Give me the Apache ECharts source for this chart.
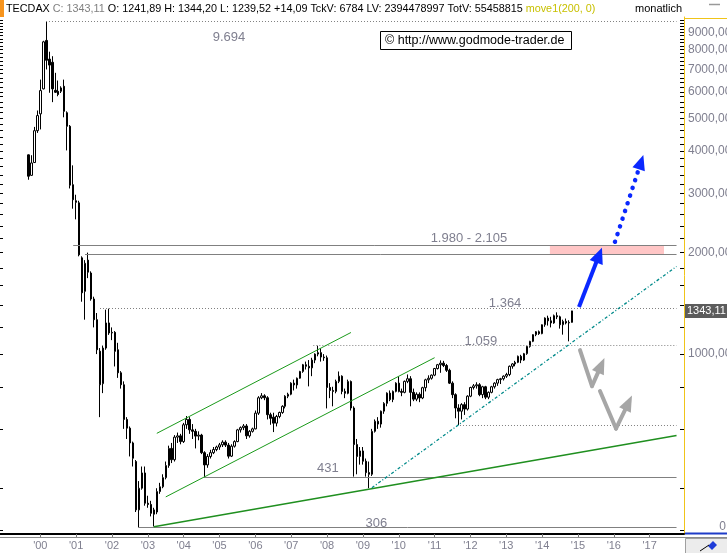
<!DOCTYPE html>
<html><head><meta charset="utf-8">
<script src="https://cdn.jsdelivr.net/npm/echarts@6.0.0/dist/echarts.min.js"></script>
<style>html,body{margin:0;padding:0;background:#fff}#c{width:727px;height:553px}</style>
</head><body><div id="c"></div>
<script>
// month index 0 = Dec 1998; first candle = Sep 1999
const firstIndex = 9;
const opens = [3900,
 3390,3700,4600,5160,6120,8520,7500,7340,6060,6020,
 6020,6230,5200,4740,3180,2850,2810,1930,1535,1900,
 1740,1457,1265,1020,817,1042,1237,1155,1160,1030,
 880,811,640,603,545,480,345,400,444,361,
 358,345,340,391,404,430,467,525,486,567,
 572,550,617,640,596,590,571,575,510,469,
 497,510,521,530,538,548,537,498,533,550,
 596,605,612,572,590,600,668,742,752,742,
 661,650,624,653,671,700,750,760,820,810,
 848,888,930,920,910,960,1000,1010,980,975,
 796,780,775,830,860,775,765,829,692,539,
 497,516,481,445,440,590,632,620,677,714,
 766,733,775,820,775,770,830,845,770,735,
 760,741,795,839,848,866,906,930,940,925,
 895,820,758,692,677,708,687,750,796,805,
 811,758,800,745,770,800,820,840,845,860,
 870,920,935,945,985,960,1003,1054,1091,1142,
 1165,1150,1222,1279,1255,1237,1300,1290,1222,1250,
 1237,1241.89];
const highs = [3910,
 3890,4720,5280,6520,8500,9694,7890,7650,6830,6480,
 6230,6520,5250,4780,3630,2970,2850,1950,1900,2000,
 1760,1480,1324,1042,1060,1355,1364,1200,1170,1080,
 890,830,650,610,550,485,420,464,464,380,
 367,350,400,415,440,480,535,545,575,585,
 580,625,655,650,620,600,590,580,515,505,
 520,530,535,545,555,555,545,540,555,600,
 610,620,620,595,605,680,750,766,760,750,
 670,670,660,675,705,755,768,825,840,852,
 892,935,950,960,975,1005,1059,1040,1000,990,
 820,800,840,888,865,790,840,835,700,560,
 530,530,490,480,600,640,650,680,720,770,
 780,780,825,858,790,835,870,860,790,770,
 770,800,845,865,870,910,935,958,955,935,
 905,830,765,710,715,720,755,800,815,825,
 820,805,805,775,805,825,845,850,865,880,
 925,940,955,990,995,1008,1058,1095,1145,1170,
 1175,1225,1285,1300,1290,1310,1330,1300,1265,1275,
 1260,1344.20];
const lows = [3290,
 3380,3690,4530,4640,6100,6990,5960,5590,5950,5820,
 5950,5040,4020,3100,2700,2510,1950,1430,1265,1680,
 1440,1200,1000,650,766,1030,1140,1100,919,850,
 790,600,560,497,464,340,306,396,355,350,
 330,308,335,385,400,425,460,475,480,545,
 540,545,600,580,560,525,555,505,431,460,
 490,505,515,520,530,530,490,495,528,548,
 585,595,560,565,585,598,660,735,730,640,
 617,587,610,645,665,690,740,755,780,790,
 845,880,900,802,860,940,985,950,955,690,
 740,700,765,820,760,740,760,680,433,440,
 470,470,433,400,435,585,600,605,665,700,
 725,720,770,770,750,765,820,700,725,725,
 720,735,775,820,840,860,900,880,915,885,
 815,740,645,616,640,660,680,745,785,790,
 750,740,735,735,765,790,805,815,835,850,
 860,905,920,940,940,955,995,1045,1085,1130,
 1140,1145,1205,1215,1200,1230,1270,1190,1142,1225,
 1091,1239.52];
const closes = [3370,
 3690,4600,5100,6050,8440,7440,7200,6120,5980,5890,
 6160,5250,4740,3170,2870,2820,1970,1520,1860,1750,
 1457,1265,1030,811,1042,1237,1155,1160,1019,880,
 811,640,603,545,491,345,400,444,361,358,
 337,335,391,404,430,467,525,486,567,572,
 550,617,640,596,590,571,575,510,469,497,
 510,521,530,538,548,537,498,533,550,596,
 605,612,572,590,600,668,742,752,742,661,
 645,624,653,671,700,750,760,820,810,848,
 888,930,920,910,960,1000,1010,980,975,796,
 780,775,830,860,775,765,829,692,539,497,
 516,481,445,440,590,632,620,677,714,766,
 733,775,820,775,770,830,845,770,735,760,
 741,795,839,848,866,906,930,940,925,895,
 820,758,692,677,708,687,750,796,805,811,
 758,800,745,770,800,820,840,845,860,870,
 920,935,945,985,960,1003,1054,1091,1142,1165,
 1150,1222,1279,1255,1237,1300,1290,1222,1250,1237,
 1242,1343.11];

const yearTicks  = [13,25,37,49,61,73,85,97,109,121,133,145,157,169,181,193,205,217];
const yearLabels = ["'00","'01","'02","'03","'04","'05","'06","'07","'08","'09","'10","'11","'12","'13","'14","'15","'16","'17"];
const priceLabels = [1000,2000,3000,4000,5000,6000,7000,8000,9000];
const priceTicks = [300,400,600,800,1000,1200,1400,1600,1800,2000,2200,2400,2600,2800,3000,3200,3400,3600,3800,
 4000,4200,4400,4600,4800,5000,5200,5400,5600,5800,6000,6200,6400,6600,6800,7000,7200,7400,7600,7800,
 8000,8200,8400,8600,8800,9000,9200,9400,9600,9800];

// horizontal levels: value, start month index
const levelValues = [9694, 2105, 1980, 1364, 1059, 616, 431, 306];
const levelStarts = [14.9, 24.0, 27.96, 32.98, 104.4, 153.5, 67.8, 45.8];
const levelDotted = [true, false, false, true, true, true, false, false];
const levelEnd = 226;
const levelTexts = ['9.694', '1.980 - 2.105', '1.364', '1.059', '431', '306'];
const levelTextPos = [[76.17, 8717], [156.5, 2208], [168.6, 1417], [160.5, 1093], [109.3, 457.4], [125.5, 315.3]];
// trend lines [[idx, value],[idx, value]]
const channelUpper = [[52, 582.0], [117, 1158.9]];
const channelLower = [[55, 377.0], [145, 975.7]];
const supportLine  = [[51, 307.6], [226, 573.1]];
const tealLine     = [[124, 401.2], [226, 1820]];
const targetZone   = [[183.6, 2105], [221.8, 1980]];
const blueArrow    = [[193.34, 1378.6], [200.07, 1966.4]];
const blueDotArrow = [[205.39, 2153.4], [214.1, 3709]];
const grayArrow1   = [[193.68, 1027.7], [197.69, 803.6], [200.77, 925.7]];
const grayArrow2   = [[200.37, 776.7], [205.73, 601.2], [209.91, 717.1]];

const FONT = "'Liberation Sans', Arial, sans-serif";
const LG = '#7f7f8f';
const fmt = v => v.toFixed(2).replace('.', ',');
const n = closes.length;

const candles = opens.map((o, k) => [firstIndex + k, o, closes[k], lows[k], highs[k]]);
const seg = (a, b, extra) => [Object.assign({coord: a}, extra && extra[0] || {}), Object.assign({coord: b}, extra && extra[1] || {})];

const chart = echarts.init(document.getElementById('c'));
const tickAxisY = (pos, showLabel, len) => ({
  type: 'log', logBase: 10, min: 292.6, max: 10000, position: pos, gridIndex: 0,
  axisLine: {show: pos === 'right', onZero: false, lineStyle: {color: '#f0c419', width: 1}},
  axisTick: {show: true, inside: true, length: len, customValues: priceTicks, lineStyle: {color: '#000'}},
  axisLabel: {show: showLabel, customValues: priceLabels, margin: 4, color: LG, fontSize: 12, fontFamily: FONT,
    formatter: v => Math.round(v) + ',00'},
  splitLine: {show: false}
});

const header = '{k|TECDAX}{g| C: ' + fmt(closes[n-1]) + '}{k| O: ' + fmt(opens[n-1]) + ' H: ' + fmt(highs[n-1]) +
  ' L: ' + fmt(lows[n-1]) + ' +14,09 TckV: 6784 LV: 2394478997 TotV: 55458815}{y| move1(200, 0)}';

chart.setOption({
  animation: false,
  backgroundColor: '#fff',
  grid: {left: 0, top: 17, width: 684, height: 517, containLabel: false, outerBoundsMode: 'none'},
  xAxis: {
    type: 'value', min: -0.5, max: 228.5, position: 'bottom',
    axisLine: {show: true, onZero: false, lineStyle: {color: '#000', width: 2}},
    axisTick: {show: true, customValues: yearTicks, length: 3, lineStyle: {color: '#777'}},
    axisLabel: {customValues: yearTicks, margin: 6, color: LG, fontSize: 11, fontFamily: FONT,
      formatter: v => yearLabels[yearTicks.indexOf(Math.round(v))] || ''},
    splitLine: {show: false}
  },
  yAxis: [tickAxisY('right', true, 4), tickAxisY('left', false, 3)],
  series: [
    {
      type: 'line', data: [], z: 1, silent: true,
      markArea: {silent: true, itemStyle: {color: '#ffc6c6'},
        data: [[{coord: targetZone[0]}, {coord: targetZone[1]}]]},
      markLine: {silent: true, symbol: ['none', 'none'], label: {show: false},
        data: levelValues.map((v, k) => [
          {coord: [levelStarts[k], v], lineStyle: {color: '#808080', width: 1, type: levelDotted[k] ? [1, 2] : 'solid'}},
          {coord: [levelEnd, v]}])}
    },
    {
      type: 'line', data: [], z: 2, silent: true,
      markLine: {silent: true, symbol: ['none', 'none'], label: {show: false},
        data: [
          seg(channelUpper[0], channelUpper[1], [{lineStyle: {color: '#1a9a1a', width: 1, type: 'solid'}}]),
          seg(channelLower[0], channelLower[1], [{lineStyle: {color: '#1a9a1a', width: 1, type: 'solid'}}]),
          seg(supportLine[0], supportLine[1], [{lineStyle: {color: '#1f8f1f', width: 1.6, type: 'solid'}}]),
          seg(tealLine[0], tealLine[1], [{lineStyle: {color: '#008a8a', width: 1.3, type: [3, 2, 1, 2]}}])
        ]}
    },
    {
      type: 'candlestick', data: candles, encode: {x: 0, y: [1, 2, 3, 4]}, z: 3,
      barWidth: 2,
      itemStyle: {color: '#fff', color0: '#000', borderColor: '#000', borderColor0: '#000', borderWidth: 1},
      markLine: {silent: true, symbol: ['none', 'none'], lineStyle: {color: 'rgba(0,0,0,0)', width: 0},
        label: {show: true, position: 'end', distance: 1, formatter: fmt(closes[n-1]), color: '#fff', opacity: 1,
          backgroundColor: '#5c5c5c', padding: [2, 2, 1, 2], fontSize: 11, fontFamily: FONT},
        data: [{yAxis: closes[n-1]}]}
    },
    {
      type: 'line', data: [], z: 5, silent: true,
      markLine: {silent: true, label: {show: false}, symbol: ['none', 'triangle'],
        data: [
          seg(blueArrow[0], blueArrow[1], [{lineStyle: {color: '#0a28ff', width: 4, type: 'solid'}}, {symbol: 'triangle', symbolSize: [14, 16]}]),
          seg(blueDotArrow[0], blueDotArrow[1], [{lineStyle: {color: '#0a28ff', width: 4.5, type: [0.1, 8], cap: 'round'}}, {symbol: 'triangle', symbolSize: [13, 15]}]),
          seg(grayArrow1[0], grayArrow1[1], [{lineStyle: {color: '#a6a6a6', width: 4, type: 'solid', cap: 'round'}}, {symbol: 'none'}]),
          seg(grayArrow1[1], grayArrow1[2], [{lineStyle: {color: '#a6a6a6', width: 4, type: 'solid', cap: 'round'}}, {symbol: 'triangle', symbolSize: [13, 16]}]),
          seg(grayArrow2[0], grayArrow2[1], [{lineStyle: {color: '#a6a6a6', width: 4, type: 'solid', cap: 'round'}}, {symbol: 'none'}]),
          seg(grayArrow2[1], grayArrow2[2], [{lineStyle: {color: '#a6a6a6', width: 4, type: 'solid', cap: 'round'}}, {symbol: 'triangle', symbolSize: [13, 16]}])
        ]}
    },
    {
      type: 'line', data: [], z: 4, silent: true,
      markPoint: {silent: true, symbol: 'rect', symbolSize: 1, itemStyle: {color: 'rgba(0,0,0,0)'},
        label: {show: true, position: 'inside', formatter: '{b}', color: LG, fontSize: 13, fontFamily: FONT},
        data: levelTexts.map((t, k) => ({name: t, coord: levelTextPos[k]}))}
    }
  ],
  graphic: [
    {type: 'rect', shape: {x: 0, y: 0, width: 4, height: 17}, style: {fill: '#f7941d'}},
    {type: 'text', x: 6, y: 9, style: {text: header, verticalAlign: 'middle', font: '10.8px ' + FONT,
      rich: {k: {fill: '#000', font: '10.8px ' + FONT}, g: {fill: '#808080', font: '10.8px ' + FONT}, y: {fill: '#c8c000', font: '10.8px ' + FONT}}}},
    {type: 'text', x: 635, y: 9, style: {text: 'monatlich', fill: '#000', verticalAlign: 'middle', font: '11px ' + FONT}},
    {type: 'line', shape: {x1: 709, y1: 4.5, x2: 720, y2: 4.5}, style: {stroke: '#999', lineWidth: 1.5}},
    {type: 'line', shape: {x1: 684, y1: 18.5, x2: 727, y2: 18.5}, style: {stroke: '#f0c419', lineWidth: 1}},
    {type: 'rect', shape: {x: 380.5, y: 31.5, width: 191, height: 18}, style: {fill: '#fff', stroke: '#000', lineWidth: 1}},
    {type: 'text', x: 385, y: 41, style: {text: '\u00a9 http://www.godmode-trader.de', fill: '#000', verticalAlign: 'middle', font: '12.5px ' + FONT}},
    {type: 'text', x: 726, y: 527, style: {text: '0', fill: LG, align: 'right', verticalAlign: 'middle', font: '12px ' + FONT}},
    {type: 'line', shape: {x1: 685, y1: 533.5, x2: 727, y2: 533.5}, style: {stroke: '#1e3cc8', lineWidth: 2}},
    {type: 'line', shape: {x1: 0, y1: 537.5, x2: 727, y2: 537.5}, style: {stroke: '#8c8c8c', lineWidth: 1}},
    {type: 'rect', shape: {x: 685.5, y: 538.5, width: 42, height: 15}, style: {fill: '#ececec', stroke: '#a0a0a0', lineWidth: 1}},
    {type: 'polygon', shape: {points: [[708, 546], [713, 541], [717, 545], [712, 550]]}, style: {fill: '#1e3cd8'}},
    {type: 'line', shape: {x1: 700, y1: 551, x2: 709, y2: 545}, style: {stroke: '#000', lineWidth: 1}}
  ]
});
</script></body></html>
